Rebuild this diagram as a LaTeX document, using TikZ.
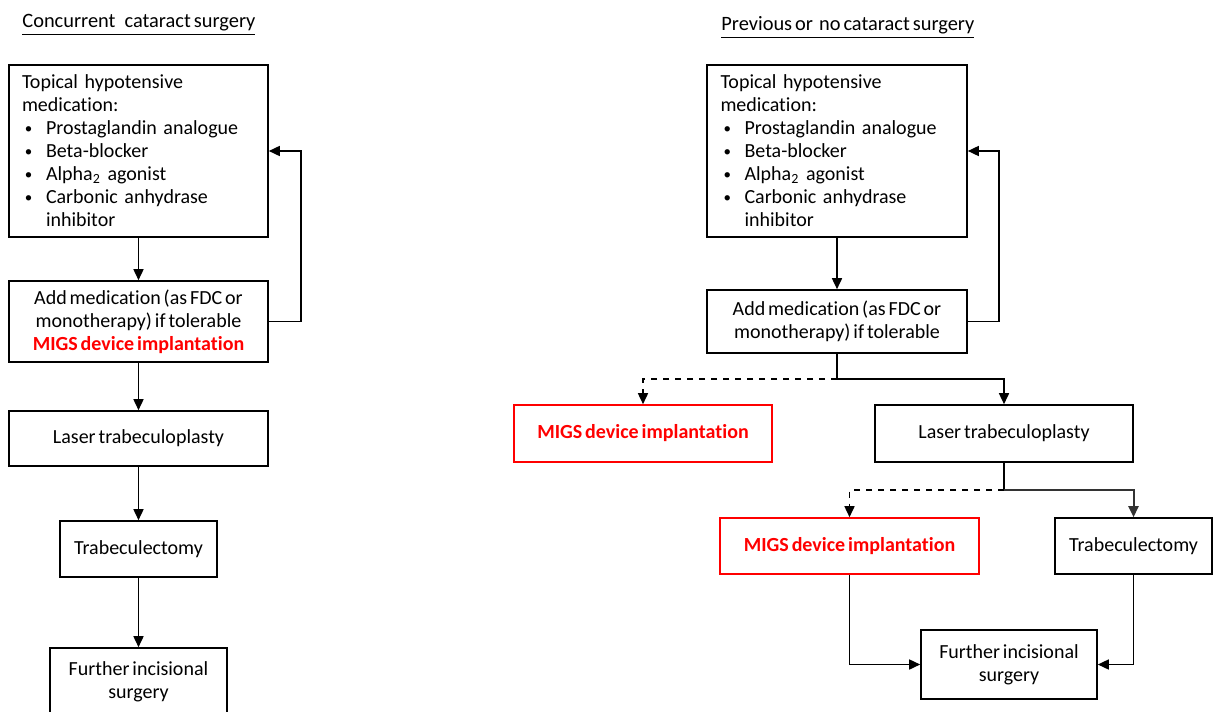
\documentclass[tikz,border=0pt]{standalone}
\usepackage{fontspec}
\setmainfont{Carlito}[Ligatures=CommonOff,WordSpace=0.65]
\usetikzlibrary{arrows.meta}
\definecolor{migsred}{RGB}{255,0,0}
\newcommand{\medbullet}{\makebox[12pt][l]{\hspace{1.5pt}\raisebox{0.7pt}{\fontsize{7.5}{8}\selectfont\textbullet}}}
\newcommand{\medlisttext}{Topical hypotensive\\
  medication:\\
  \medbullet Prostaglandin analogue\\
  \medbullet Beta-blocker\\
  \medbullet Alpha\textsubscript{2} agonist\\
  \medbullet Carbonic anhydrase\\
  \hspace*{12pt}inhibitor}

\begin{document}
\begin{tikzpicture}[x=0.5pt, y=-0.5pt, >={Triangle[length=5.5pt,width=5pt]},
		box_style/.style={rectangle,draw=black,line width=0.8pt,align=center,inner sep=0pt,font=\fontsize{10}{11.5}\selectfont},
		list_style/.style={box_style,align=left,text width=116.5pt,minimum width=129.5pt,minimum height=86pt},
		migs_style/.style={box_style,draw=migsred,text=migsred,font=\fontsize{10}{11.5}\selectfont\bfseries},
		title_style/.style={anchor=base west,inner sep=0pt,font=\fontsize{10.2}{11.5}\selectfont},
		edge_style/.style={draw=black,line width=0.8pt,->},
		dash_style/.style={edge_style,dashed}]

	\useasboundingbox (0,0) rectangle (1213,711);

	% concurrent cataract surgery
	\node[title_style] (t0) at (22,28) {\underline{Concurrent\hspace{3pt} cataract surgery}};
	\node[list_style] (n0) at (138.5,151) {\medlisttext};
	\node[box_style,minimum width=129.5pt,minimum height=40.5pt] (n1) at (138.5,321.5)
		{Add medication (as FDC or\\monotherapy) if tolerable\\{\color{migsred}\bfseries MIGS device implantation}};
	\node[box_style,minimum width=129.5pt,minimum height=27.5pt] (n2) at (138.5,438.5) {Laser trabeculoplasty};
	\node[box_style,minimum width=78.5pt,minimum height=28pt] (n3) at (138.5,549) {Trabeculectomy};
	\node[box_style,minimum width=88.5pt,minimum height=34pt] (n4) at (138.5,682) {Further incisional\\surgery};

	\draw[edge_style] (n0) -- (n1);
	\draw[edge_style] (n1.east) -- ++(32,0) |- (n0.east);
	\draw[edge_style] (n1) -- (n2);
	\draw[edge_style] (n2) -- (n3);
	\draw[edge_style] (n3) -- (n4);

	% previous or no cataract surgery
	\node[title_style] (t1) at (721,31) {\underline{Previous or\hspace{1.5pt} no cataract surgery}};
	\node[list_style,minimum width=130pt] (n6) at (837,151) {\medlisttext};
	\node[box_style,minimum width=130pt,minimum height=31.5pt] (n7) at (837,321.5)
		{Add medication (as FDC or\\monotherapy) if tolerable};
	\node[migs_style,minimum width=129pt,minimum height=28.5pt] (n8) at (643,433.5) {MIGS device implantation};
	\node[box_style,minimum width=129pt,minimum height=28.5pt] (n9) at (1004,433.5) {Laser trabeculoplasty};
	\node[migs_style,minimum width=129.5pt,minimum height=28pt] (n10) at (849.5,546) {MIGS device implantation};
	\node[box_style,minimum width=78.5pt,minimum height=28pt] (n11) at (1133.5,546) {Trabeculectomy};
	\node[box_style,minimum width=88pt,minimum height=34.5pt] (n12) at (1009,664.5) {Further incisional\\surgery};

	\coordinate (b0) at (837,379);
	\coordinate (b1) at (1004,490);

	\draw[edge_style] (n6) -- (n7);
	\draw[edge_style] (n7.east) -- ++(31,0) |- (n6.east);
	\draw[line width=0.8pt] (n7.south) -- (b0);
	\draw[dash_style] (b0) -| (n8.north);
	\draw[edge_style] (b0) -| (n9.north);
	\draw[line width=0.8pt] (n9.south) -- (b1);
	\draw[dash_style] (b1) -| (n10.north);
	\draw[edge_style,draw=black!80,line width=1pt] (b1) -| (n11.north);
	\draw[edge_style] (n10.south) |- (n12.west);
	\draw[edge_style] (n11.south) |- (n12.east);
\end{tikzpicture}
\end{document}
